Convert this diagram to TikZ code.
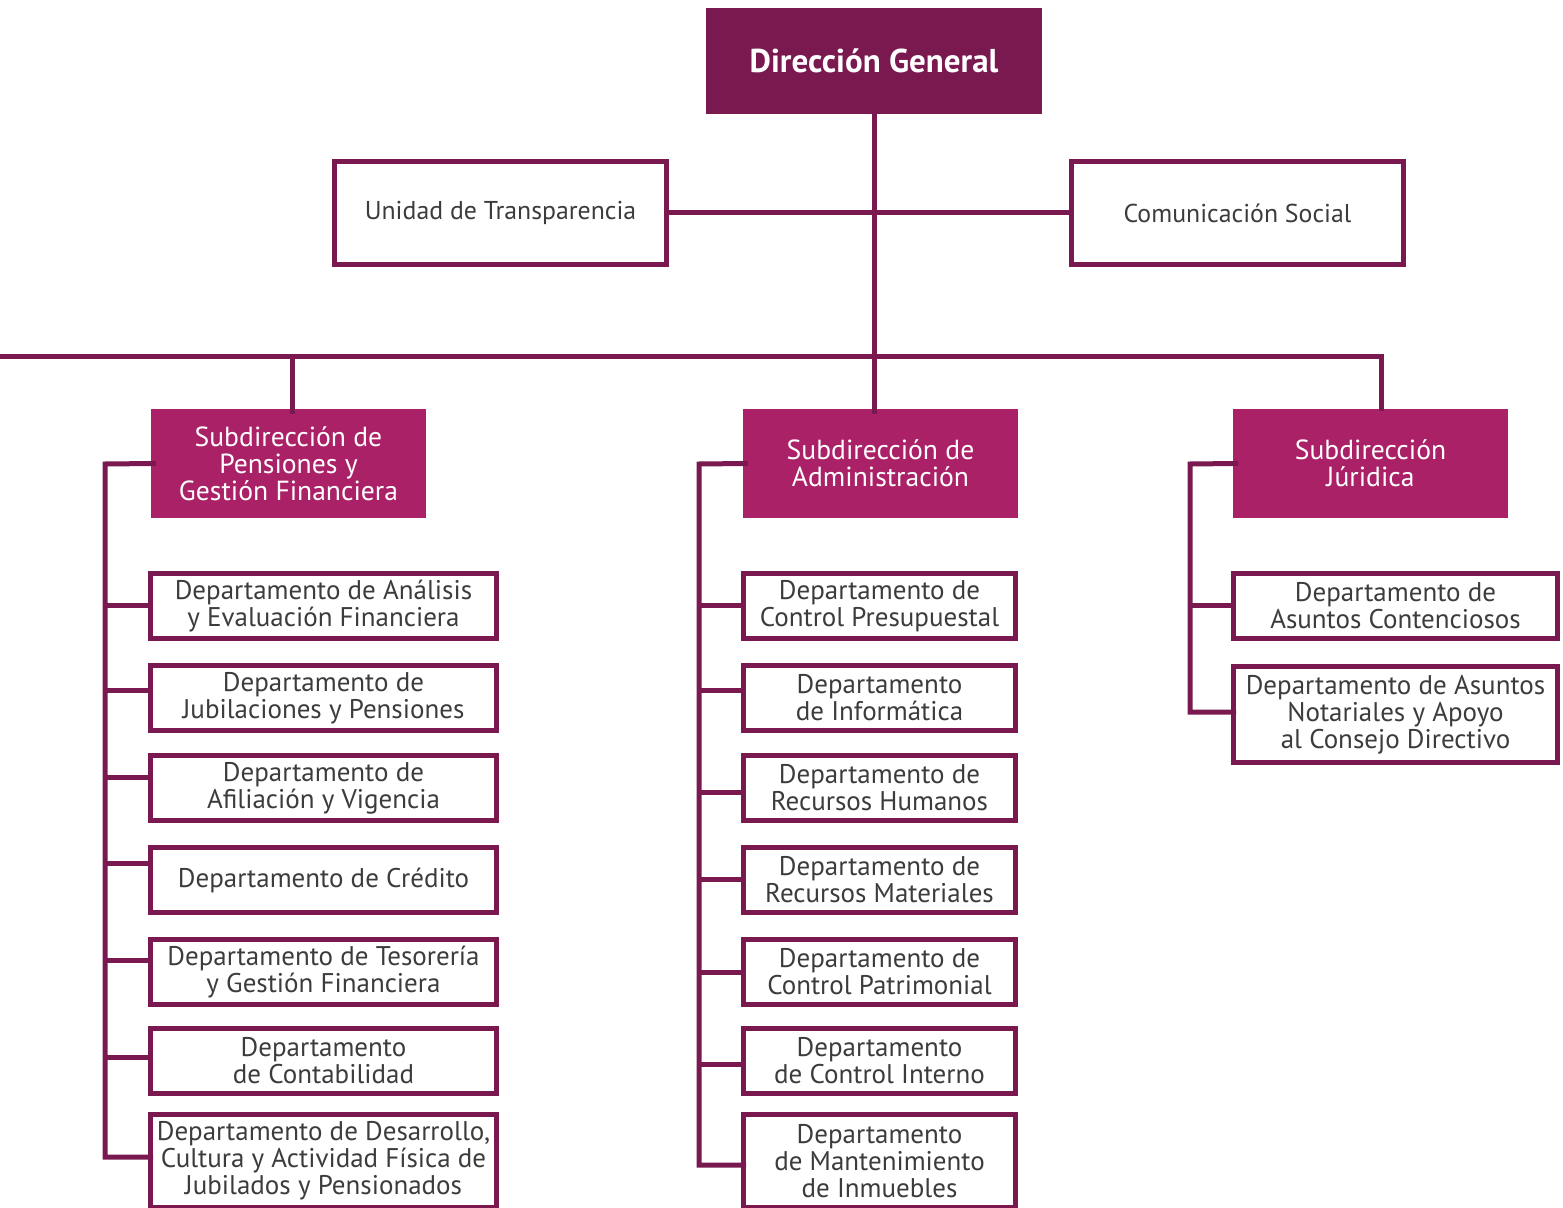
\documentclass[tikz,border=0pt]{standalone}
\usepackage{fontspec}
\setmainfont{PT Sans}
\definecolor{maroon}{HTML}{7A1950}
\definecolor{subfill}{HTML}{AB2168}
\definecolor{txtgray}{HTML}{3C3C3C}
\newcommand\orgbox[7]{\node[#6, minimum width={(#4-#2-5)*0.5pt}, minimum height={(#5-#3-5)*0.5pt}] (#1) at ({(#2+#4)/2},{(#3+#5)/2}) {#7};}
\tikzset{
  base/.style={rectangle, line width=2.5pt, inner sep=0pt, outer sep=0pt, align=center},
  topbox/.style={base, draw=maroon, fill=maroon, text=white, font=\fontsize{16.5}{17}\selectfont\bfseries},
  subbox/.style={base, draw=subfill, fill=subfill, text=white, font=\fontsize{13.8}{13.5}\selectfont},
  deptbox/.style={base, draw=maroon, fill=white, text=txtgray, font=\fontsize{13.5}{13.5}\selectfont},
  sidebox/.style={base, draw=maroon, fill=white, text=txtgray, font=\fontsize{12.9}{13}\selectfont},
  conn/.style={draw=maroon, line width=2.5pt, line join=miter, line cap=rect}
}
\begin{document}
\begin{tikzpicture}[x=0.5pt, y=-0.5pt]
\useasboundingbox (0,0) rectangle (1563,1208);
% top
\orgbox{dg}{706}{8}{1042}{114}{topbox}{Dirección General}
\orgbox{ut}{332}{159}{669}{267}{sidebox}{Unidad de Transparencia}
\orgbox{cs}{1069}{159}{1406}{267}{sidebox}{Comunicación Social}
% subdirecciones
\orgbox{pen}{151}{409}{426}{518}{subbox}{Subdirección de\\Pensiones y\\Gestión Financiera}
\orgbox{adm}{743}{409}{1018}{518}{subbox}{Subdirección de\\Administración}
\orgbox{jur}{1233}{409}{1508}{518}{subbox}{Subdirección\\Júridica}
% left departments
\orgbox{d1}{148}{571}{499}{641}{deptbox}{Departamento de Análisis\\y Evaluación Financiera}
\orgbox{d2}{148}{663}{499}{733}{deptbox}{Departamento de\\Jubilaciones y Pensiones}
\orgbox{d3}{148}{753}{499}{823}{deptbox}{Departamento de\\Afiliación y Vigencia}
\orgbox{d4}{148}{845}{499}{915}{deptbox}{Departamento de Crédito}
\orgbox{d5}{148}{937}{499}{1007}{deptbox}{Departamento de Tesorería\\y Gestión Financiera}
\orgbox{d6}{148}{1026}{499}{1096}{deptbox}{Departamento\\de Contabilidad}
\orgbox{d7}{148}{1112}{499}{1210}{deptbox}{Departamento de Desarrollo,\\Cultura y Actividad Física de\\Jubilados y Pensionados}
% middle departments
\orgbox{m1}{741}{571}{1018}{641}{deptbox}{Departamento de\\Control Presupuestal}
\orgbox{m2}{741}{663}{1018}{733}{deptbox}{Departamento\\de Informática}
\orgbox{m3}{741}{753}{1018}{823}{deptbox}{Departamento de\\Recursos Humanos}
\orgbox{m4}{741}{845}{1018}{915}{deptbox}{Departamento de\\Recursos Materiales}
\orgbox{m5}{741}{937}{1018}{1007}{deptbox}{Departamento de\\Control Patrimonial}
\orgbox{m6}{741}{1026}{1018}{1096}{deptbox}{Departamento\\de Control Interno}
\orgbox{m7}{741}{1112}{1018}{1210}{deptbox}{Departamento\\de Mantenimiento\\de Inmuebles}
% right departments
\orgbox{r1}{1231}{571}{1560}{641}{deptbox}{Departamento de\\Asuntos Contenciosos}
\orgbox{r2}{1231}{664}{1560}{765}{deptbox}{Departamento de Asuntos\\Notariales y Apoyo\\al Consejo Directivo}
% connectors
\coordinate (hl) at (0,357);
\coordinate (hr) at (1381,357);
\coordinate (pj) at (292,357);
\draw[conn] (dg.south) -- (dg.south |- adm.north);
\draw[conn] (ut.east) -- (cs.west);
\draw[conn, line cap=butt] (hl) -- (hr) -- (hr |- jur.north);
\draw[conn] (pj) -- (pj |- pen.north);
% left bus
\draw[conn] (pen.west) -- (105,464) -- (105,1157) -- (d7.west |- 105,1157);
\draw[conn] (105,605) -- (d1.west |- 105,605);
\draw[conn] (105,690) -- (d2.west |- 105,690);
\draw[conn] (105,777) -- (d3.west |- 105,777);
\draw[conn] (105,863) -- (d4.west |- 105,863);
\draw[conn] (105,960) -- (d5.west |- 105,960);
\draw[conn] (105,1057) -- (d6.west |- 105,1057);
% middle bus
\draw[conn] (adm.west) -- (699,464) -- (699,1165) -- (m7.west |- 699,1165);
\draw[conn] (699,605) -- (m1.west |- 699,605);
\draw[conn] (699,690) -- (m2.west |- 699,690);
\draw[conn] (699,792) -- (m3.west |- 699,792);
\draw[conn] (699,879) -- (m4.west |- 699,879);
\draw[conn] (699,972) -- (m5.west |- 699,972);
\draw[conn] (699,1064) -- (m6.west |- 699,1064);
% right bus
\draw[conn] (jur.west) -- (1190,464) -- (1190,712) -- (r2.west |- 1190,712);
\draw[conn] (1190,605) -- (r1.west |- 1190,605);
\end{tikzpicture}
\end{document}
